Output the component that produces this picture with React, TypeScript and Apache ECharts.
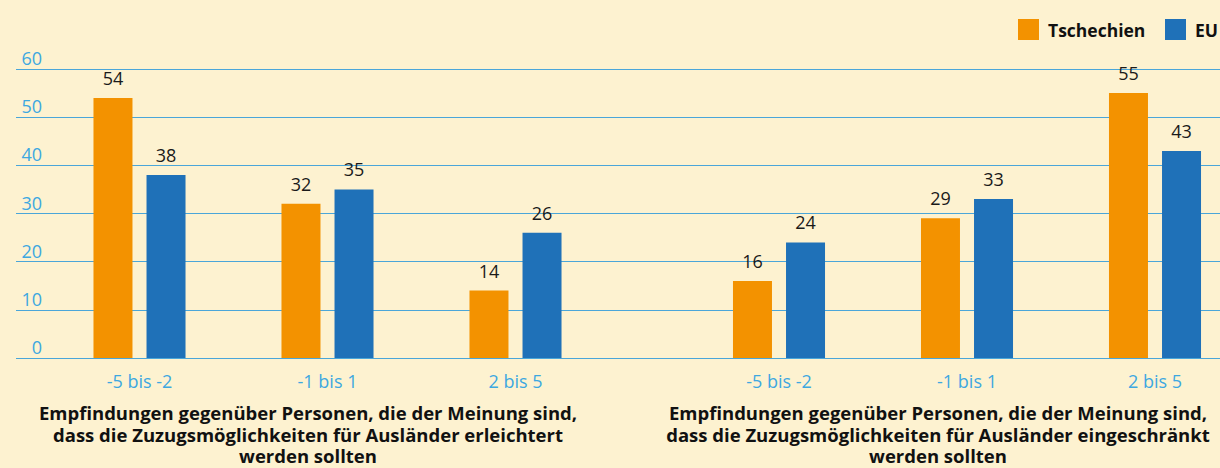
import React, { useEffect, useRef } from "react";
import * as echarts from "echarts";

const categories = ["-5 bis -2", "-1 bis 1", "2 bis 5"];
const seriesNames = ["Tschechien", "EU"];
const tschechienEasier = [54, 32, 14];
const euEasier = [38, 35, 26];
const tschechienRestrict = [16, 29, 55];
const euRestrict = [24, 33, 43];
const groupTitles = [
  "Empfindungen gegenüber Personen, die der Meinung sind,\ndass die Zuzugsmöglichkeiten für Ausländer erleichtert\nwerden sollten",
  "Empfindungen gegenüber Personen, die der Meinung sind,\ndass die Zuzugsmöglichkeiten für Ausländer eingeschränkt\nwerden sollten",
];
const yTicks = { min: 0, max: 60, interval: 10 };

const ORANGE = "#f39200";
const BLUE = "#1f71b8";
const AXIS_BLUE = "#4aa6d9";
const LABEL_BLUE = "#3ea8e0";
const FONT = "'Open Sans', sans-serif";
const CHART_W = 1260;

export default function App() {
  const ref = useRef<HTMLDivElement>(null);
  useEffect(() => {
    if (!ref.current) return;
    const chart = echarts.init(ref.current, undefined, { renderer: "svg" });
    const top = 69;
    const bottom = 110;
    const band = 188;
    const grids = [
      { left: 16, right: CHART_W - 1220, top, bottom },
      { left: 45.5, width: band * 3, top, bottom },
      { left: 685, width: band * 3, top, bottom },
    ];
    const hiddenY = (i: number) => ({
      type: "value",
      gridIndex: i,
      min: yTicks.min,
      max: yTicks.max,
      interval: yTicks.interval,
      show: false,
    });
    const catAxis = (i: number) => ({
      type: "category",
      gridIndex: i,
      data: categories,
      axisLine: { show: false },
      axisTick: { show: false },
      axisLabel: { color: LABEL_BLUE, fontSize: 18, fontFamily: FONT, margin: 14 },
    });
    const barLabel = {
      show: true,
      position: "top",
      distance: 11,
      color: "#1a1a1a",
      fontSize: 18,
      fontFamily: FONT,
    };
    const mkBar = (name: string, data: number[], idx: number, color: string) => ({
      name,
      type: "bar",
      xAxisIndex: idx,
      yAxisIndex: idx,
      data,
      barWidth: 39,
      barGap: "36%",
      itemStyle: { color },
      label: barLabel,
    });
    const legendColors = [ORANGE, BLUE];
    const legendX = [1018, 1165];
    const legendGraphics: any[] = [];
    seriesNames.forEach((n, i) => {
      legendGraphics.push({
        type: "rect",
        shape: { x: legendX[i], y: 19, width: 21, height: 21 },
        style: { fill: legendColors[i] },
      });
      legendGraphics.push({
        type: "text",
        x: legendX[i] + 30,
        y: 29.5,
        style: {
          text: n,
          font: `bold 17.5px ${FONT}`,
          fill: "#111",
          textAlign: "left",
          textVerticalAlign: "middle",
          verticalAlign: "middle",
        },
      });
    });
    const titleGraphic = (text: string, cx: number) => ({
      type: "text",
      x: cx,
      y: 402,
      style: {
        text,
        textAlign: "center",
        align: "center",
        font: `bold 18.5px ${FONT}`,
        lineHeight: 21.5,
        fill: "#111",
      },
    });
    chart.setOption({
      animation: false,
      backgroundColor: "#fdf2d0",
      textStyle: { fontFamily: FONT },
      grid: grids,
      xAxis: [
        { type: "category", gridIndex: 0, data: [""], show: false },
        catAxis(1),
        catAxis(2),
      ],
      yAxis: [
        {
          type: "value",
          gridIndex: 0,
          min: yTicks.min,
          max: yTicks.max,
          interval: yTicks.interval,
          axisLine: { show: false },
          axisTick: { show: false },
          splitLine: { lineStyle: { color: AXIS_BLUE, width: 1 } },
          axisLabel: {
            color: LABEL_BLUE,
            fontSize: 18,
            fontFamily: FONT,
            margin: -26,
            verticalAlign: "bottom",
            padding: [0, 0, 2, 0],
          },
        },
        hiddenY(1),
        hiddenY(2),
      ],
      series: [
        mkBar(seriesNames[0], tschechienEasier, 1, ORANGE),
        mkBar(seriesNames[1], euEasier, 1, BLUE),
        mkBar(seriesNames[0], tschechienRestrict, 2, ORANGE),
        mkBar(seriesNames[1], euRestrict, 2, BLUE),
      ],
      graphic: [
        ...legendGraphics,
        titleGraphic(groupTitles[0], 308),
        titleGraphic(groupTitles[1], 938),
      ],
    });
    return () => chart.dispose();
  }, []);
  return (
    <div
      style={{
        position: "absolute",
        left: 0,
        top: 0,
        width: 1220,
        height: 468,
        overflow: "hidden",
      }}
    >
      <div ref={ref} style={{ width: CHART_W, height: 468 }} />
    </div>
  );
}
